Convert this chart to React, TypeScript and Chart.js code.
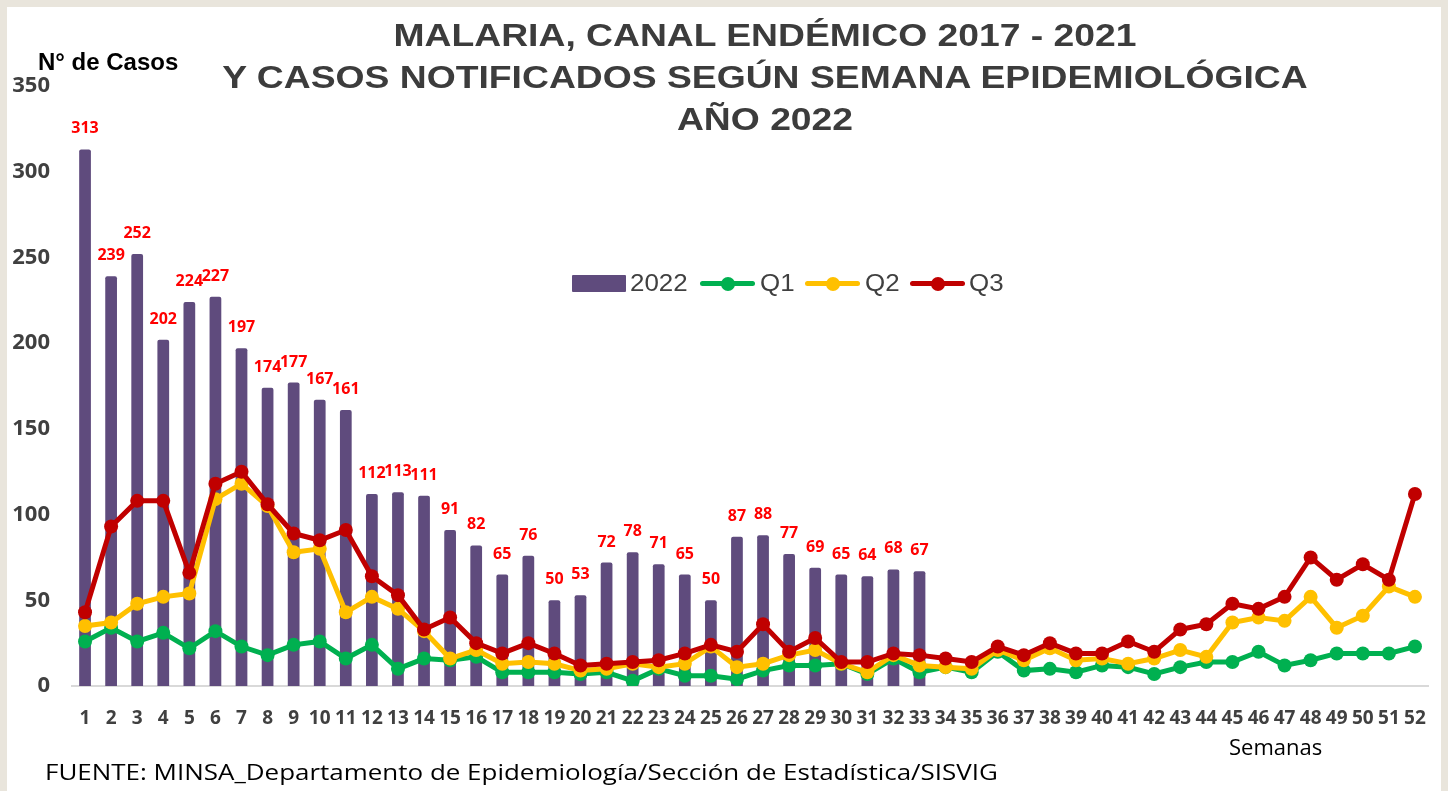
import React, { useEffect, useRef } from "react";
import { Chart, registerables } from "chart.js";

Chart.register(...registerables);

const weeks = ["1","2","3","4","5","6","7","8","9","10","11","12","13","14","15","16","17","18","19","20","21","22","23","24","25","26","27","28","29","30","31","32","33","34","35","36","37","38","39","40","41","42","43","44","45","46","47","48","49","50","51","52"];

const cases2022 = [313,239,252,202,224,227,197,174,177,167,161,112,113,111,91,82,65,76,50,53,72,78,71,65,50,87,88,77,69,65,64,68,67,null,null,null,null,null,null,null,null,null,null,null,null,null,null,null,null,null,null,null];

const q1 = [26,34,26,31,22,32,23,18,24,26,16,24,10,16,15,17,8,8,8,7,8,3,10,6,6,4,9,12,12,13,7,16,8,11,8,20,9,10,8,12,11,7,11,14,14,20,12,15,19,19,19,23];

const q2 = [35,37,48,52,54,109,118,105,78,80,43,52,45,32,16,21,13,14,13,9,10,13,11,13,23,11,13,18,21,13,8,18,12,11,10,21,15,22,15,16,13,16,21,17,37,40,38,52,34,41,58,52];

const q3 = [43,93,108,108,66,118,125,106,89,85,91,64,53,33,40,25,19,25,19,12,13,14,15,19,24,20,36,20,28,14,14,19,18,16,14,23,18,25,19,19,26,20,33,36,48,45,52,75,62,71,62,112];

const yTicks = [0, 50, 100, 150, 200, 250, 300, 350];

const PURPLE = "#5F4B7D";
const GREEN = "#00B050";
const YELLOW = "#FFC000";
const RED = "#C00000";
const TEXT = "#404040";

const barLabels = {
  id: "barLabels",
  afterDatasetsDraw(chart: any) {
    const ctx = chart.ctx;
    const meta = chart.getDatasetMeta(0);
    ctx.save();
    ctx.font = "bold 16px 'Open Sans'";
    ctx.fillStyle = "#FF0000";
    ctx.textAlign = "center";
    ctx.textBaseline = "alphabetic";
    meta.data.forEach((el: any, i: number) => {
      const v = cases2022[i];
      if (v == null) return;
      ctx.fillText(String(v), el.x, el.y - 16);
    });
    ctx.restore();
  },
};

const legendItems = [
  { label: "2022", color: PURPLE, bar: true, sx: 572, tx: 630 },
  { label: "Q1", color: GREEN, bar: false, sx: 700, tx: 760 },
  { label: "Q2", color: YELLOW, bar: false, sx: 805, tx: 865 },
  { label: "Q3", color: RED, bar: false, sx: 910, tx: 969 },
];

export default function App() {
  const ref = useRef<HTMLCanvasElement | null>(null);

  useEffect(() => {
    if (!ref.current) return;
    const chart = new Chart(ref.current, {
      type: "bar",
      data: {
        labels: weeks,
        datasets: [
          {
            type: "bar",
            label: "2022",
            data: cases2022 as any,
            backgroundColor: PURPLE,
            barPercentage: 0.45,
            categoryPercentage: 1,
            borderRadius: 2,
            order: 4,
          },
          {
            type: "line",
            label: "Q1",
            data: q1,
            borderColor: GREEN,
            backgroundColor: GREEN,
            pointBackgroundColor: GREEN,
            borderWidth: 5,
            pointRadius: 7,
            pointBorderWidth: 0,
            tension: 0,
            order: 3,
          },
          {
            type: "line",
            label: "Q2",
            data: q2,
            borderColor: YELLOW,
            backgroundColor: YELLOW,
            pointBackgroundColor: YELLOW,
            borderWidth: 5,
            pointRadius: 7,
            pointBorderWidth: 0,
            tension: 0,
            order: 2,
          },
          {
            type: "line",
            label: "Q3",
            data: q3,
            borderColor: RED,
            backgroundColor: RED,
            pointBackgroundColor: RED,
            borderWidth: 5,
            pointRadius: 7,
            pointBorderWidth: 0,
            tension: 0,
            order: 1,
          },
        ],
      },
      options: {
        responsive: false,
        animation: false,
        devicePixelRatio: 1,
        layout: { padding: { top: 86, right: 20, bottom: 0, left: 0 } },
        plugins: {
          legend: { display: false },
          title: { display: false },
          tooltip: { enabled: false },
        },
        scales: {
          x: {
            grid: { display: false },
            border: { display: true, color: "#D9D9D9", width: 2 },
            ticks: {
              autoSkip: false,
              maxRotation: 0,
              minRotation: 0,
              padding: 13,
              color: TEXT,
              font: { family: "'Open Sans'", size: 19, weight: "bold" },
            },
            afterFit(scale: any) {
              scale.height = 105;
            },
          },
          y: {
            min: 0,
            max: 350,
            afterBuildTicks(scale: any) {
              scale.ticks = yTicks.map((v) => ({ value: v }));
            },
            grid: { display: false },
            border: { display: false },
            ticks: {
              padding: 14,
              color: TEXT,
              font: { family: "'Open Sans'", size: 22, weight: "bold" },
            },
            afterFit(scale: any) {
              scale.width = 72;
            },
          },
        },
      },
      plugins: [barLabels],
    });
    return () => chart.destroy();
  }, []);

  return (
    <div style={{ position: "fixed", left: 0, top: 0, width: 1448, height: 791, background: "#E9E5DC", overflow: "hidden" }}>
      <div style={{ position: "absolute", left: 7, top: 7, width: 1434, height: 784, background: "#FFFFFF" }} />
      <canvas ref={ref} width={1448} height={791} style={{ position: "absolute", left: 0, top: 0, width: 1448, height: 791 }} />
      {[
        { t: "MALARIA, CANAL ENDÉMICO 2017 - 2021", top: 19 },
        { t: "Y CASOS NOTIFICADOS SEGÚN SEMANA EPIDEMIOLÓGICA", top: 61 },
        { t: "AÑO 2022", top: 103 },
      ].map((l) => (
        <div
          key={l.t}
          style={{
            position: "absolute",
            left: 765,
            top: l.top,
            transform: "translateX(-50%) scaleX(1.165)",
            whiteSpace: "nowrap",
            font: "bold 32px 'Liberation Sans', Arial, sans-serif",
            lineHeight: "32px",
            color: "#3C3C3C",
          }}
        >
          {l.t}
        </div>
      ))}
      <div style={{ position: "absolute", left: 38, top: 50, font: "bold 24px 'Liberation Sans', Arial, sans-serif", lineHeight: "24px", color: "#000", whiteSpace: "nowrap" }}>
        N° de Casos
      </div>
      {legendItems.map((it) => (
        <React.Fragment key={it.label}>
          {it.bar ? (
            <div style={{ position: "absolute", left: it.sx, top: 275, width: 54, height: 17, background: it.color, borderRadius: 1 }} />
          ) : (
            <>
              <div style={{ position: "absolute", left: it.sx, top: 281, width: 55, height: 5, background: it.color, borderRadius: 2.5 }} />
              <div style={{ position: "absolute", left: it.sx + 20.5, top: 276.5, width: 14, height: 14, borderRadius: 7, background: it.color }} />
            </>
          )}
          <div style={{ position: "absolute", left: it.tx, top: 271, font: "24px 'Liberation Sans', Arial, sans-serif", lineHeight: "24px", color: TEXT, whiteSpace: "nowrap", transform: "scaleX(1.08)", transformOrigin: "left center" }}>
            {it.label}
          </div>
        </React.Fragment>
      ))}
      <div style={{ position: "absolute", left: 1229, top: 735, font: "22px 'Open Sans', sans-serif", lineHeight: "22px", color: "#000", whiteSpace: "nowrap" }}>
        Semanas
      </div>
      <div style={{ position: "absolute", left: 45, top: 760, font: "22px 'Open Sans', sans-serif", lineHeight: "22px", color: "#000", whiteSpace: "nowrap", transform: "scaleX(1.18)", transformOrigin: "left center" }}>
        FUENTE: MINSA_Departamento de Epidemiología/Sección de Estadística/SISVIG
      </div>
    </div>
  );
}
